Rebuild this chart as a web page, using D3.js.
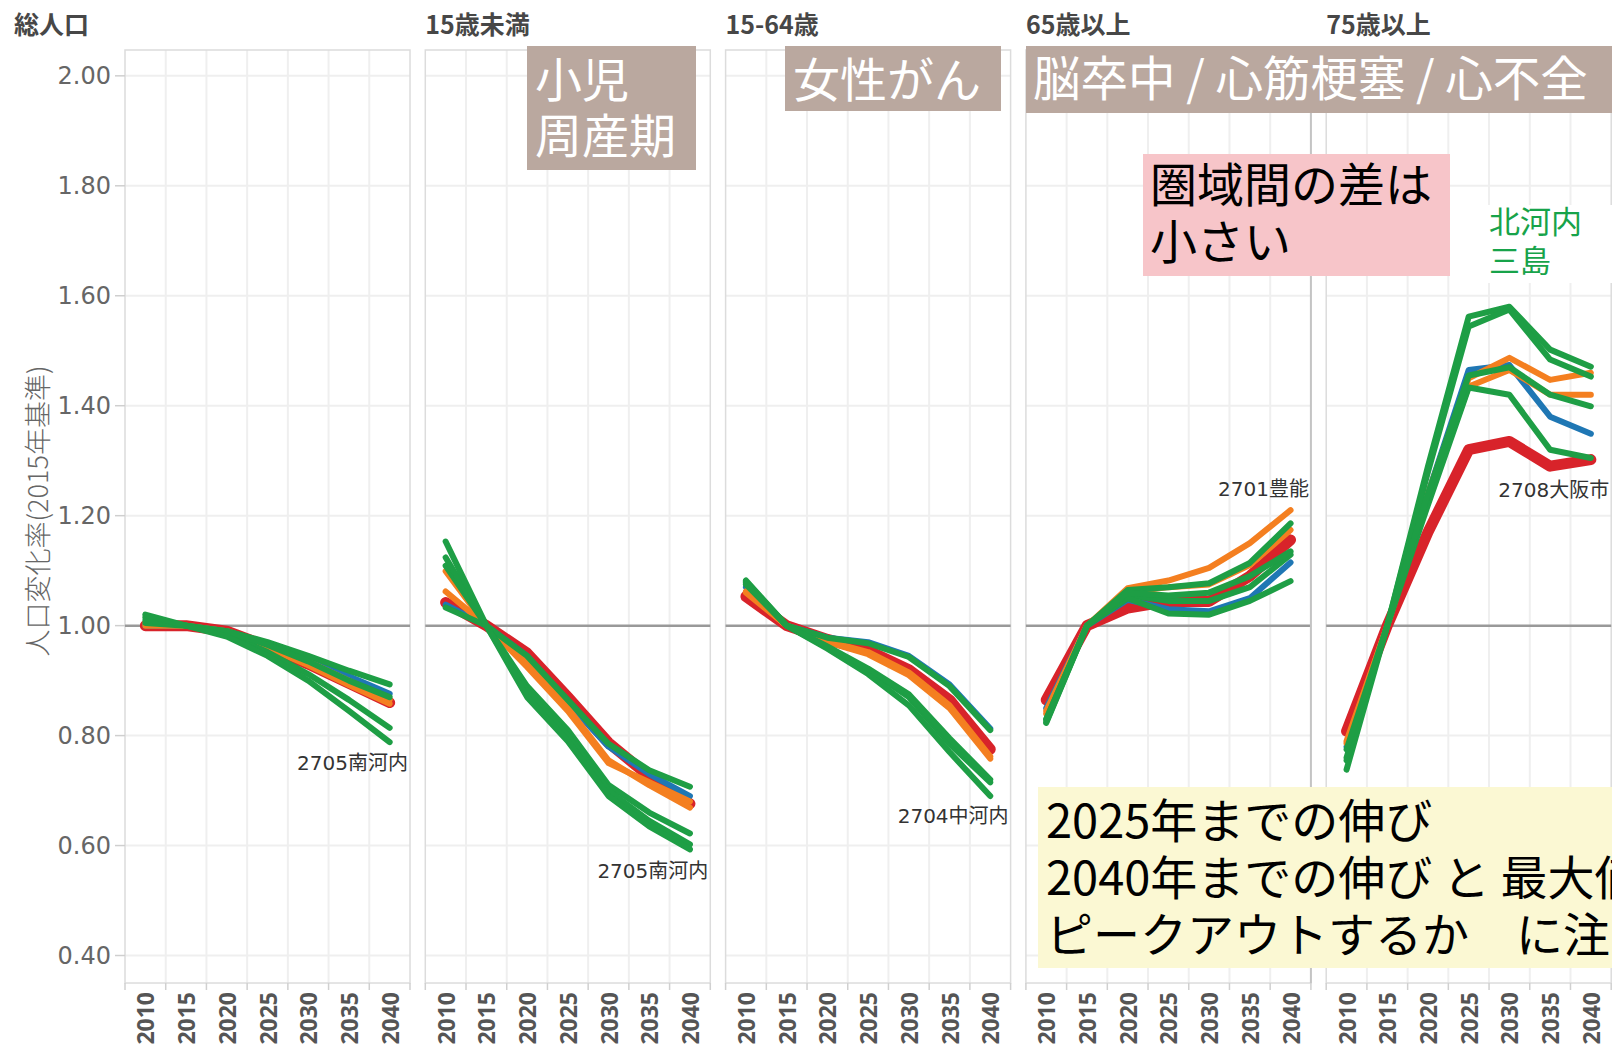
<!DOCTYPE html>
<html>
<head>
<meta charset="utf-8">
<script src="https://cdn.jsdelivr.net/npm/d3@7"></script>
<style>
  body { margin: 0; background: #fff; }
  svg { display: block; }
</style>
</head>
<body>
<svg width="1612" height="1050"></svg>
<script>
// --- data ---
const years = [2010, 2015, 2020, 2025, 2030, 2035, 2040];
const yTicks = [0.4, 0.6, 0.8, 1.0, 1.2, 1.4, 1.6, 1.8, 2.0];
const panelTitles = ["総人口", "15歳未満", "15-64歳", "65歳以上", "75歳以上"];
const areaNames = ["2701豊能", "2702三島", "2703北河内", "2704中河内", "2705南河内", "2706堺市", "2707泉州", "2708大阪市"];
const areaColors = ["#f47f20", "#1e9e45", "#1e9e45", "#1e9e45", "#1e9e45", "#1f77b4", "#f47f20", "#d8232a"];

const valsTotal = [
  [1.000, 1.0, 0.990, 0.965, 0.935, 0.900, 0.865],
  [1.005, 1.0, 0.990, 0.970, 0.945, 0.918, 0.893],
  [1.015, 1.0, 0.985, 0.952, 0.912, 0.865, 0.814],
  [1.010, 1.0, 0.990, 0.965, 0.935, 0.900, 0.870],
  [1.020, 1.0, 0.980, 0.945, 0.900, 0.845, 0.788],
  [1.000, 1.0, 0.990, 0.968, 0.940, 0.908, 0.876],
  [1.005, 1.0, 0.985, 0.960, 0.928, 0.892, 0.858],
  [1.000, 1.0, 0.990, 0.962, 0.930, 0.895, 0.860]
];
const valsUnder15 = [
  [1.062, 1.0, 0.935, 0.850, 0.755, 0.710, 0.669],
  [1.033, 1.0, 0.945, 0.865, 0.785, 0.737, 0.707],
  [1.109, 1.0, 0.890, 0.810, 0.710, 0.660, 0.622],
  [1.124, 1.0, 0.880, 0.800, 0.700, 0.645, 0.602],
  [1.153, 1.0, 0.870, 0.790, 0.690, 0.635, 0.593],
  [1.038, 1.0, 0.945, 0.860, 0.780, 0.730, 0.690],
  [1.099, 1.0, 0.925, 0.845, 0.750, 0.715, 0.680],
  [1.042, 1.0, 0.950, 0.870, 0.787, 0.726, 0.676]
];
const vals15to64 = [
  [1.062, 1.0, 0.972, 0.952, 0.915, 0.855, 0.762],
  [1.082, 1.0, 0.978, 0.968, 0.943, 0.890, 0.810],
  [1.078, 1.0, 0.960, 0.920, 0.870, 0.785, 0.715],
  [1.080, 1.0, 0.958, 0.912, 0.855, 0.770, 0.690],
  [1.075, 1.0, 0.962, 0.922, 0.875, 0.795, 0.720],
  [1.070, 1.0, 0.978, 0.970, 0.945, 0.893, 0.813],
  [1.060, 1.0, 0.970, 0.948, 0.910, 0.850, 0.758],
  [1.053, 1.0, 0.975, 0.955, 0.920, 0.865, 0.775]
];
const vals65plus = [
  [0.840, 1.0, 1.068, 1.082, 1.105, 1.150, 1.210],
  [0.830, 1.0, 1.065, 1.070, 1.077, 1.114, 1.186],
  [0.825, 1.0, 1.055, 1.045, 1.045, 1.070, 1.129],
  [0.823, 1.0, 1.050, 1.022, 1.020, 1.045, 1.081],
  [0.830, 1.0, 1.060, 1.055, 1.060, 1.090, 1.135],
  [0.850, 1.0, 1.047, 1.030, 1.026, 1.050, 1.115],
  [0.845, 1.0, 1.060, 1.070, 1.075, 1.110, 1.174],
  [0.865, 1.0, 1.032, 1.044, 1.044, 1.090, 1.156]
];
const vals75plus = [
  [0.786, 1.0, 1.240, 1.450, 1.487, 1.447, 1.460],
  [0.755, 1.0, 1.290, 1.562, 1.580, 1.502, 1.471],
  [0.738, 1.0, 1.280, 1.544, 1.575, 1.484, 1.453],
  [0.760, 1.0, 1.220, 1.433, 1.420, 1.320, 1.305],
  [0.775, 1.0, 1.240, 1.455, 1.470, 1.420, 1.399],
  [0.780, 1.0, 1.240, 1.465, 1.474, 1.380, 1.349],
  [0.790, 1.0, 1.230, 1.435, 1.465, 1.420, 1.420],
  [0.808, 1.0, 1.170, 1.320, 1.335, 1.290, 1.302]
];
const panelValues = [valsTotal, valsUnder15, vals15to64, vals65plus, vals75plus];

// area label shown in each panel, with the value where it sits
const labelArea = [4, 4, 3, 0, 7];
const labelValue = [0.75, 0.553, 0.653, 1.248, 1.246];

// --- layout ---
const svg = d3.select("svg");
const plotTop = 50, plotBottom = 983;
const panelW = 285;
const panelLeft = i => 125 + i * 300.3;
const jp = '"Noto Sans CJK JP", sans-serif';
const num = '"DejaVu Sans", "Noto Sans CJK JP", sans-serif';

const y = d3.scaleLinear().domain([0.35, 2.047]).range([plotBottom, plotTop]);

// draw order: red, blue, orange, green
const drawOrder = [7, 5, 0, 6, 1, 2, 3, 4];

panelTitles.forEach((title, p) => {
  const left = panelLeft(p);
  const x = d3.scaleBand().domain(years).range([left, left + panelW]);
  const g = svg.append("g");

  // vertical grid lines at band boundaries
  const bounds = years.slice(1).map(yr => x(yr));
  g.selectAll(".vg").data(bounds).join("line")
    .attr("x1", d => d).attr("x2", d => d)
    .attr("y1", plotTop).attr("y2", plotBottom)
    .attr("stroke", "#efefef").attr("stroke-width", 2);

  // horizontal grid lines
  g.selectAll(".hg").data(yTicks.filter(t => t !== 1.0)).join("line")
    .attr("x1", left).attr("x2", left + panelW)
    .attr("y1", d => y(d)).attr("y2", d => y(d))
    .attr("stroke", "#efefef").attr("stroke-width", 2);

  // frame
  g.append("rect")
    .attr("x", left).attr("y", plotTop)
    .attr("width", panelW).attr("height", plotBottom - plotTop)
    .attr("fill", "none").attr("stroke", "#dcdcdc").attr("stroke-width", 1.5);

  // bottom dividers (ticks under header)
  g.selectAll(".bt").data([left].concat(bounds, [left + panelW])).join("line")
    .attr("x1", d => d).attr("x2", d => d)
    .attr("y1", plotBottom).attr("y2", plotBottom + 7)
    .attr("stroke", "#d0d0d0").attr("stroke-width", 1.5);

  // reference line at 1.00
  g.append("line")
    .attr("x1", left).attr("x2", left + panelW)
    .attr("y1", y(1)).attr("y2", y(1))
    .attr("stroke", "#999").attr("stroke-width", 2.5);

  // lines
  const line = d3.line()
    .x((d, i) => x(years[i]) + x.bandwidth() / 2)
    .y(d => y(d));
  drawOrder.forEach(a => {
    g.append("path")
      .attr("d", line(panelValues[p][a]))
      .attr("fill", "none")
      .attr("stroke", areaColors[a])
      .attr("stroke-width", a === 7 ? 11 : 6)
      .attr("stroke-linecap", "round")
      .attr("stroke-linejoin", "round");
  });

  // area label
  g.append("text")
    .attr("x", left + panelW - 2)
    .attr("y", y(labelValue[p]))
    .attr("text-anchor", "end")
    .attr("dominant-baseline", "central")
    .attr("font-family", num)
    .attr("font-size", 20)
    .attr("fill", "#333")
    .text(areaNames[labelArea[p]]);

  // year labels
  g.selectAll(".xl").data(years).join("text")
    .attr("transform", d => `translate(${x(d) + x.bandwidth() / 2},${plotBottom + 9}) rotate(-90)`)
    .attr("text-anchor", "end")
    .attr("dominant-baseline", "central")
    .attr("font-family", '"Open Sans", sans-serif')
    .attr("font-weight", 700)
    .attr("font-size", 23)
    .attr("fill", "#555")
    .text(d => d);

  // panel title
  svg.append("text")
    .attr("x", p === 0 ? 14 : left)
    .attr("y", 34)
    .attr("font-family", jp)
    .attr("font-weight", 700)
    .attr("font-size", 25)
    .attr("fill", "#474747")
    .text(title);
});

// darker divider between 65歳以上 and 75歳以上
svg.append("line")
  .attr("x1", panelLeft(3) + panelW).attr("x2", panelLeft(3) + panelW)
  .attr("y1", plotTop).attr("y2", plotBottom)
  .attr("stroke", "#c4c4c4").attr("stroke-width", 2);

// y axis ticks and labels
svg.selectAll(".yt").data(yTicks).join("line")
  .attr("x1", 115).attr("x2", 125)
  .attr("y1", d => y(d)).attr("y2", d => y(d))
  .attr("stroke", "#cfcfcf").attr("stroke-width", 1.5);
svg.selectAll(".yl").data(yTicks).join("text")
  .attr("x", 111).attr("y", d => y(d))
  .attr("text-anchor", "end")
  .attr("dominant-baseline", "central")
  .attr("font-family", num)
  .attr("font-size", 24)
  .attr("fill", "#666")
  .text(d => d.toFixed(2));

svg.append("text")
  .attr("transform", "translate(36,511) rotate(-90)")
  .attr("text-anchor", "middle")
  .attr("dominant-baseline", "central")
  .attr("font-family", jp)
  .attr("font-weight", 300)
  .attr("font-size", 27)
  .attr("fill", "#666")
  .text("人口変化率(2015年基準)");

// --- annotations ---
function box(x0, y0, w, h, fill, lines, opts) {
  svg.append("rect").attr("x", x0).attr("y", y0).attr("width", w).attr("height", h).attr("fill", fill);
  lines.forEach((t, i) => {
    svg.append("text")
      .attr("x", opts.tx).attr("y", opts.ty + i * opts.lh)
      .attr("dominant-baseline", "central")
      .attr("font-family", jp)
      .attr("font-size", opts.fs)
      .attr("fill", opts.color)
      .style("white-space", "pre")
      .text(t);
  });
}

box(527, 46, 169, 124, "#baa89f", ["小児", "周産期"], { tx: 535, ty: 76, lh: 56, fs: 47, color: "#fff" });
box(785, 46, 216, 65, "#baa89f", ["女性がん"], { tx: 793, ty: 76, lh: 0, fs: 47, color: "#fff" });
box(1026, 46, 586, 67, "#baa89f", ["脳卒中 / 心筋梗塞 / 心不全"], { tx: 1033, ty: 75, lh: 0, fs: 47.5, color: "#fff" });
box(1143, 154, 307, 122, "#f7c5c9", ["圏域間の差は", "小さい"], { tx: 1150, ty: 181, lh: 57, fs: 47, color: "#000" });
box(1480, 205, 132, 78, "#fff", ["北河内", "三島"], { tx: 1489, ty: 219, lh: 39, fs: 31, color: "#17a34a" });
box(1038, 787, 574, 181, "#fbf8d3", ["2025年までの伸び", "2040年までの伸び と 最大値", "ピークアウトするか　に注目"], { tx: 1046, ty: 817, lh: 57, fs: 47, color: "#000" });
</script>
</body>
</html>
